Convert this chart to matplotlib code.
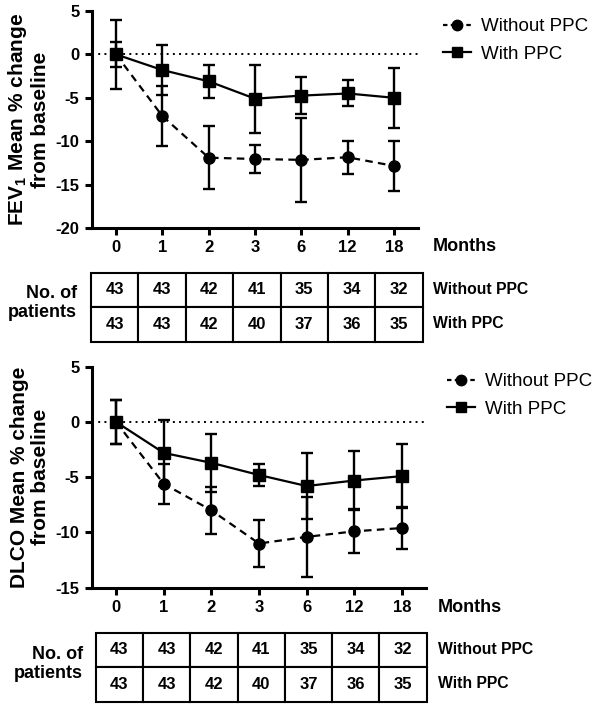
import matplotlib
matplotlib.use("Agg")
import matplotlib.pyplot as plt
from matplotlib.lines import Line2D

plt.rcParams['font.family'] = ['Liberation Sans', 'DejaVu Sans']
plt.rcParams['mathtext.fontset'] = 'custom'
plt.rcParams['mathtext.rm'] = 'Liberation Sans:bold'
plt.rcParams['mathtext.bf'] = 'Liberation Sans:bold'
plt.rcParams['mathtext.default'] = 'bf'

months = ['0', '1', '2', '3', '6', '12', '18']

fev_without = [0, -7.1, -11.9, -12.05, -12.15, -11.85, -12.85]
fev_without_err = [1.4, 3.5, 3.6, 1.65, 4.8, 1.9, 2.9]
fev_with = [0, -1.8, -3.1, -5.1, -4.75, -4.5, -5.0]
fev_with_err = [4.0, 2.9, 1.9, 3.9, 2.1, 1.5, 3.45]

dlco_without = [0, -5.6, -8.0, -11.0, -10.4, -9.9, -9.6]
dlco_without_err = [2.0, 1.8, 2.1, 2.1, 3.6, 2.0, 1.9]
dlco_with = [0, -2.8, -3.7, -4.8, -5.8, -5.3, -4.9]
dlco_with_err = [2.0, 3.0, 2.6, 1.0, 3.0, 2.65, 2.9]

n_without = [43, 43, 42, 41, 35, 34, 32]
n_with = [43, 43, 42, 40, 37, 36, 35]

W, H = 600, 708
fig = plt.figure(figsize=(W / 100, H / 100), dpi=100)


def fx(px):
    return px / W


def fy(py):
    return 1 - py / H


def draw_panel(rect, xlim, ylim, yticks, without, without_err, with_, with_err,
               ylabel, legend_xy, months_xy):
    ax = fig.add_axes(rect)
    x = list(range(len(months)))
    ax.axhline(0, color='black', lw=1.4, ls=(0, (1, 2.2)), zorder=1)
    ax.errorbar(x, without, yerr=without_err, color='black', lw=1.6,
                ls=(0, (3.4, 2.4)), marker='o', ms=8, capsize=4.5,
                elinewidth=1.7, capthick=1.7, zorder=3)
    ax.errorbar(x, with_, yerr=with_err, color='black', lw=1.6, ls='-',
                marker='s', ms=8, capsize=4.5, elinewidth=1.7,
                capthick=1.7, zorder=3)
    ax.set_xlim(*xlim)
    ax.set_ylim(*ylim)
    ax.set_xticks(x)
    ax.set_xticklabels(months)
    ax.set_yticks(yticks)
    ax.set_yticklabels([str(v) for v in yticks])
    for s in ['top', 'right']:
        ax.spines[s].set_visible(False)
    for s in ['left', 'bottom']:
        ax.spines[s].set_linewidth(2.2)
    ax.tick_params(direction='out', length=5, width=2.2, labelsize=12, pad=4)
    for lab in ax.get_xticklabels() + ax.get_yticklabels():
        lab.set_fontweight('bold')
    ax.set_ylabel(ylabel, fontsize=15, fontweight='bold', labelpad=4,
                  linespacing=1.1)
    handles = [
        Line2D([], [], color='black', lw=1.6, ls=(0, (2, 1.5)), marker='o', ms=7.5),
        Line2D([], [], color='black', lw=1.6, ls='-', marker='s', ms=7.5),
    ]
    fig.legend(handles, ['Without PPC', 'With PPC'], loc='center left',
               bbox_to_anchor=legend_xy, frameon=False, fontsize=13.5,
               handlelength=1.5, handletextpad=0.55, labelspacing=0.55,
               borderaxespad=0, borderpad=0)
    fig.text(months_xy[0], months_xy[1], 'Months', fontsize=13,
             fontweight='bold', ha='left', va='center')
    return ax


def draw_table(rect, label_x, label_y, rowlab_x, rowlab_ys):
    tax = fig.add_axes(rect)
    tax.axis('off')
    cells = [[str(v) for v in n_without], [str(v) for v in n_with]]
    tb = tax.table(cellText=cells, bbox=[0, 0, 1, 1], cellLoc='center')
    tb.auto_set_font_size(False)
    for (r, c), cell in tb.get_celld().items():
        cell.set_linewidth(1.5)
        cell.get_text().set_fontsize(12)
        cell.get_text().set_fontweight('bold')
    fig.text(label_x, label_y, 'No. of\npatients', fontsize=13,
             fontweight='bold', ha='right', va='center', multialignment='right',
             linespacing=1.15)
    fig.text(rowlab_x, rowlab_ys[0], 'Without PPC', fontsize=11.3,
             fontweight='bold', ha='left', va='center')
    fig.text(rowlab_x, rowlab_ys[1], 'With PPC', fontsize=11.3,
             fontweight='bold', ha='left', va='center')


# Top panel (FEV1)
draw_panel([fx(92), fy(228), fx(418 - 92), (228 - 11) / H],
           (-0.518, 6.518), (-20, 5), [5, 0, -5, -10, -15, -20],
           fev_without, fev_without_err, fev_with, fev_with_err,
           'FEV$_\\mathbf{1}$ Mean % change\nfrom baseline',
           (fx(443), fy(40.5)), (fx(433), fy(246.5)))
draw_table([fx(91), fy(341.7), fx(422.7 - 91), 69 / H],
           fx(77), fy(303), fx(433), (fy(289), fy(323)))

# Bottom panel (DLCO)
draw_panel([fx(92), fy(587.7), fx(426 - 92), (587.7 - 366.7) / H],
           (-0.505, 6.505), (-15, 5), [5, 0, -5, -10, -15],
           dlco_without, dlco_without_err, dlco_with, dlco_with_err,
           'DLCO Mean % change\nfrom baseline',
           (fx(447), fy(395.5)), (fx(437.7), fy(608)))
draw_table([fx(95.7), fy(701.7), fx(426.7 - 95.7), 69 / H],
           fx(83), fy(664), fx(437.7), (fy(649.5), fy(683)))

fig.savefig('out.png', dpi=100)
